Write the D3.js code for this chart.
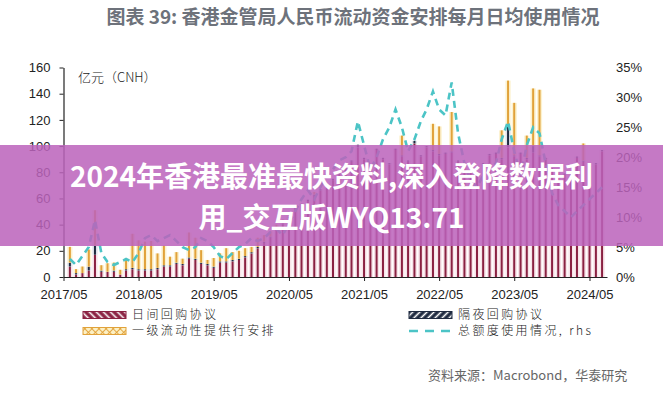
<!DOCTYPE html>
<html>
<head>
<meta charset="utf-8">
<script src="https://cdn.jsdelivr.net/npm/d3@7"></script>
<style>
  body { margin: 0; background: #fff; }
  svg { display: block; }
</style>
</head>
<body>
<div id="chart"></div>
<script>
// monthly data, 2017/06 - 2024/07 (亿元, rhs in %)
const months = d3.timeMonth.range(new Date(2017, 5, 1), new Date(2024, 7, 1));

const intraday = [
  8, 2, 3, 5, 17, 4, 4, 4, 2, 5, 6, 5, 5, 5, 6, 8, 8, 10, 9, 14,
  13, 10, 9, 7, 11, 11, 12, 13, 15, 18, 22, 26, 30, 36, 40, 45, 52, 55, 58, 62,
  66, 70, 74, 78, 82, 88, 99, 90, 84, 97, 90, 86, 97, 92, 88, 102, 92, 99, 96, 93,
  94, 95, 88, 84, 80, 78, 86, 93, 94, 90, 99, 92, 94, 90, 95, 92, 90, 82, 80, 78,
  80, 91, 88, 84, 86, 96
];
const overnight = [
  3, 1, 0, 3, 7, 1, 0, 1, 0, 1, 1, 1, 1, 1, 1, 1, 1, 1, 1, 1,
  1, 1, 1, 1, 1, 1, 1, 1, 1, 1, 1, 1, 1, 1, 1, 1, 1, 1, 1, 1,
  1, 1, 1, 1, 1, 1, 2, 1, 1, 1, 1, 1, 1, 1, 1, 2, 1, 1, 1, 1,
  1, 1, 1, 1, 1, 1, 1, 1, 1, 1, 16, 1, 1, 1, 5, 1, 1, 1, 1, 1,
  1, 1, 1, 1, 1, 1
];
const primaryLiq = [
  12, 3, 5, 13, 27, 4, 6.5, 6, 3.5, 8, 26, 22, 21, 21.5, 11, 15, 6.5, 8, 4, 19,
  16, 9.5, 3, 6.5, 6, 10, 6, 6, 6, 4, 7, 5, 4, 3, 3, 2, 2, 0, 0, 2,
  0, 0, 0, 0, 0, 0, 0, 0, 0, 0, 0, 0, 0, 15, 0, 0, 0, 0, 20, 21,
  0, 30, 0, 0, 0, 0, 0, 0, 0, 21, 35, 40, 0, 17, 44, 50, 0, 0, 0, 0,
  0, 0, 13, 0, 0, 0
];
const usagePct = [
  3, 2, 3.5, 5, 9.5, 4, 2.5, 2, 2.5, 3, 2.5, 4, 6.5, 7, 6, 6.5, 7, 6, 5, 4.5,
  5, 6.5, 6, 5, 3.5, 3, 4, 5, 5.5, 6.5, 6, 6.5, 7.5, 8, 7, 9, 11, 13, 14.5, 13,
  15, 17, 18, 19.5, 20, 21, 26, 22, 18, 20, 23, 25, 28, 25, 21, 23, 26, 28, 31, 28,
  27, 32.5, 24, 19, 16, 15, 17, 18, 19, 23, 26, 21, 17, 22, 25, 24, 19, 14, 12, 11,
  10, 11, 12, 13, 14, 15
];

const yTicksLeft = [0, 20, 40, 60, 80, 100, 120, 140, 160];
const yTicksRight = [0, 0.05, 0.10, 0.15, 0.20, 0.25, 0.30, 0.35];
const xTickDates = d3.range(2017, 2025).map(y => new Date(y, 4, 1));

const seriesNames = {
  d: "日间回购协议",
  n: "隔夜回购协议",
  l: "一级流动性提供行安排",
  u: "总额度使用情况, rhs"
};

const rows = months.map((date, i) => ({
  date,
  d: intraday[i],
  n: overnight[i],
  l: primaryLiq[i],
  u: usagePct[i]
}));

const width = 663;
const height = 393;

const svg = d3.select("#chart")
  .append("svg")
  .attr("width", width)
  .attr("height", height)
  .style("font-family", "'Liberation Sans', Arial, sans-serif");

svg.append("rect").attr("width", width).attr("height", height).attr("fill", "#fff");

const x = d3.scaleTime()
  .domain([new Date(2017, 4, 1), new Date(2024, 6, 25)])
  .range([63.5, 607]);

const yL = d3.scaleLinear().domain([0, 160]).range([277, 67.5]);
const yR = d3.scaleLinear().domain([0, 0.35]).range([277, 67.5]);

const colors = {
  d: { dark: "#8a2142", light: "#f7e3e8" },
  n: { dark: "#1f2a40", light: "#dfe1ea" },
  l: { dark: "#e1a23a", light: "#fcf2cf" }
};

const stack = d3.stack().keys(["d", "n", "l"]);
const stacked = stack(rows);

const barG = svg.append("g");
stacked.forEach(layer => {
  const c = colors[layer.key];
  const g = barG.append("g");
  g.selectAll(".light")
    .data(layer.filter(s => s[1] > s[0]))
    .enter()
    .append("rect")
    .attr("x", s => x(s.data.date) - 2.6)
    .attr("width", 5.2)
    .attr("y", s => yL(s[1]))
    .attr("height", s => yL(s[0]) - yL(s[1]))
    .attr("fill", c.light);
  g.selectAll(".dark")
    .data(layer.filter(s => s[1] > s[0]))
    .enter()
    .append("rect")
    .attr("x", s => x(s.data.date) - 1)
    .attr("width", 2)
    .attr("y", s => yL(s[1]))
    .attr("height", s => yL(s[0]) - yL(s[1]))
    .attr("fill", c.dark);
});

const line = d3.line()
  .x(d => x(d.date))
  .y(d => yR(d.u / 100));

svg.append("path")
  .datum(rows)
  .attr("fill", "none")
  .attr("stroke", "#4cc4c6")
  .attr("stroke-width", 2.6)
  .attr("stroke-dasharray", "7,5")
  .attr("d", line);

// axes
const axisColor = "#222";

const gx = svg.append("g")
  .attr("transform", "translate(0,277)")
  .call(d3.axisBottom(x)
    .tickValues(xTickDates)
    .tickFormat(d3.timeFormat("%Y/%m"))
    .tickSize(4)
    .tickSizeOuter(0)
    .tickPadding(9));
gx.select(".domain").attr("stroke", axisColor).attr("stroke-width", 1.2);
gx.selectAll("line").attr("stroke", axisColor);
gx.selectAll("text").attr("font-size", "13px").attr("fill", "#222");

const gyL = svg.append("g")
  .attr("transform", "translate(63.5,0)")
  .call(d3.axisLeft(yL)
    .tickValues(yTicksLeft)
    .tickSize(4)
    .tickSizeOuter(0)
    .tickPadding(9));
gyL.select(".domain").attr("stroke", axisColor).attr("stroke-width", 1.2);
gyL.selectAll("line").attr("stroke", axisColor);
gyL.selectAll("text").attr("font-size", "13px").attr("fill", "#222");

const gyR = svg.append("g")
  .attr("transform", "translate(607,0)")
  .call(d3.axisRight(yR)
    .tickValues(yTicksRight)
    .tickFormat(d3.format(".0%"))
    .tickSize(0)
    .tickPadding(9));
gyR.select(".domain").remove();
gyR.selectAll("text").attr("font-size", "13px").attr("fill", "#222");

svg.append("text")
  .attr("x", 78)
  .attr("y", 82)
  .attr("font-size", "13px")
  .attr("fill", "#222")
  .style("font-family", "'Noto Sans CJK SC', sans-serif")
  .style("font-weight", 300)
  .text("亿元（CNH）");

// title
svg.append("text")
  .attr("x", 353)
  .attr("y", 24)
  .attr("text-anchor", "middle")
  .attr("font-size", "19px")
  .attr("font-weight", "bold")
  .attr("fill", "#6d727b")
  .style("font-family", "'Noto Sans CJK SC', sans-serif")
  .text("图表 39: 香港金管局人民币流动资金安排每月日均使用情况");

// legend
const defs = svg.append("defs");
function hatch(id, bg, fg, angle, cross) {
  const p = defs.append("pattern")
    .attr("id", id)
    .attr("patternUnits", "userSpaceOnUse")
    .attr("width", 5)
    .attr("height", 5)
    .attr("patternTransform", `rotate(${angle})`);
  p.append("rect").attr("width", 5).attr("height", 5).attr("fill", bg);
  p.append("line").attr("x1", 2.5).attr("x2", 2.5).attr("y1", 0).attr("y2", 5)
    .attr("stroke", fg).attr("stroke-width", cross ? 0.9 : 1.6);
  if (cross) {
    p.append("line").attr("x1", 0).attr("x2", 5).attr("y1", 2.5).attr("y2", 2.5)
      .attr("stroke", fg).attr("stroke-width", 0.9);
  }
}
hatch("hatchD", "#8a2142", "#fff", -45, false);
hatch("hatchN", "#1f2a40", "#fff", 45, false);
hatch("hatchL", "#fcf0c4", "#e1a23a", 45, true);

const legendItems = [
  { key: "d", x: 83, y: 315 },
  { key: "n", x: 409, y: 315 },
  { key: "l", x: 83, y: 331 },
  { key: "u", x: 409, y: 331 }
];
const legendBorder = { d: "#8a2142", n: "#1f2a40", l: "#e1a23a" };

const lg = svg.append("g");
legendItems.forEach(item => {
  if (item.key === "u") {
    lg.append("line")
      .attr("x1", item.x).attr("x2", item.x + 44)
      .attr("y1", item.y).attr("y2", item.y)
      .attr("stroke", "#4cc4c6")
      .attr("stroke-width", 2.6)
      .attr("stroke-dasharray", "9,7");
  } else {
    lg.append("rect")
      .attr("x", item.x).attr("y", item.y - 3.5)
      .attr("width", 43).attr("height", 7)
      .attr("fill", `url(#hatch${item.key.toUpperCase()})`)
      .attr("stroke", legendBorder[item.key])
      .attr("stroke-width", 1);
  }
  lg.append("text")
    .attr("x", item.x + 49)
    .attr("y", item.y)
    .attr("dy", "0.36em")
    .attr("font-size", "12px")
    .attr("letter-spacing", "2.4px")
    .attr("fill", "#222")
    .style("font-family", "'Noto Sans CJK SC', sans-serif")
    .style("font-weight", 300)
    .text(seriesNames[item.key]);
});

// source
svg.append("text")
  .attr("x", 428)
  .attr("y", 380)
  .attr("font-size", "13px")
  .attr("fill", "#666")
  .style("font-family", "'Noto Sans CJK SC', sans-serif")
  .text("资料来源：Macrobond，华泰研究");

// banner overlay
svg.append("rect")
  .attr("x", 0)
  .attr("y", 145)
  .attr("width", width)
  .attr("height", 101)
  .attr("fill", "rgb(188,99,188)")
  .attr("opacity", 0.86);

const bannerLines = ["2024年香港最准最快资料,深入登降数据利", "用_交互版WYQ13.71"];
svg.append("g")
  .selectAll("text")
  .data(bannerLines)
  .enter()
  .append("text")
  .attr("x", 331.5)
  .attr("y", (d, i) => 177 + i * 41)
  .attr("dy", "0.35em")
  .attr("text-anchor", "middle")
  .attr("font-size", "28px")
  .attr("font-weight", "bold")
  .attr("fill", "#fff")
  .style("font-family", "'Noto Sans CJK SC', sans-serif")
  .text(d => d);
</script>
</body>
</html>
